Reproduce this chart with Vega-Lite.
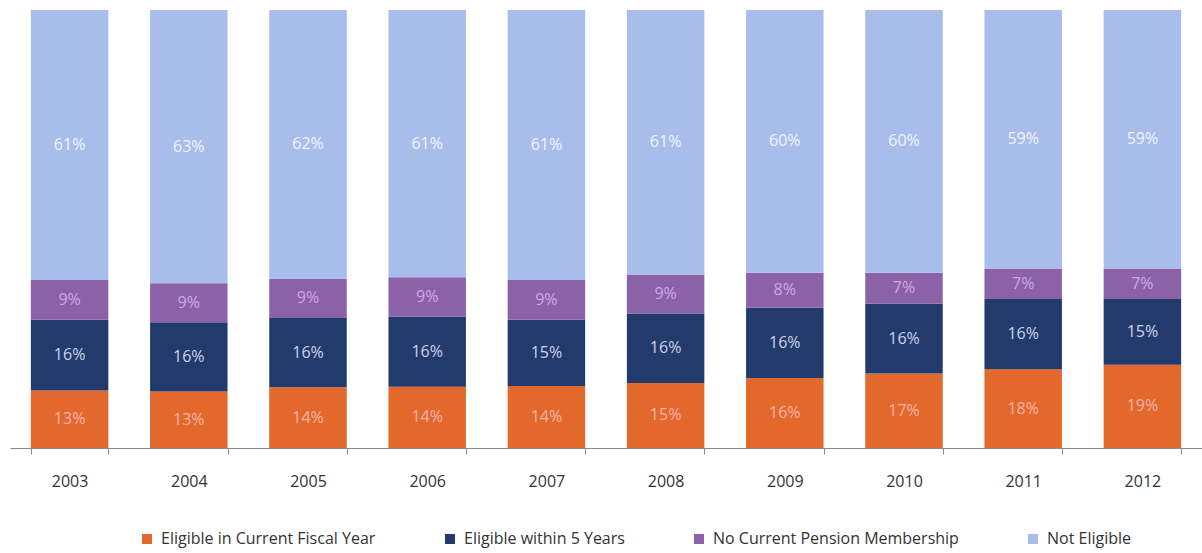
{
  "$schema": "https://vega.github.io/schema/vega-lite/v6.json",
  "width": 1192,
  "height": 438,
  "autosize": {"type": "none"},
  "padding": {"left": 10, "top": 10, "right": 0, "bottom": 105},
  "background": "white",
  "config": {"view": {"stroke": null}, "font": "Open Sans"},
  "data": {
    "values": [
      {"year": "2003", "series": "Eligible in Current Fiscal Year", "value": 0.13},
      {"year": "2003", "series": "Eligible within 5 Years", "value": 0.16},
      {"year": "2003", "series": "No Current Pension Membership", "value": 0.09},
      {"year": "2003", "series": "Not Eligible", "value": 0.61},
      {"year": "2004", "series": "Eligible in Current Fiscal Year", "value": 0.13},
      {"year": "2004", "series": "Eligible within 5 Years", "value": 0.16},
      {"year": "2004", "series": "No Current Pension Membership", "value": 0.09},
      {"year": "2004", "series": "Not Eligible", "value": 0.63},
      {"year": "2005", "series": "Eligible in Current Fiscal Year", "value": 0.14},
      {"year": "2005", "series": "Eligible within 5 Years", "value": 0.16},
      {"year": "2005", "series": "No Current Pension Membership", "value": 0.09},
      {"year": "2005", "series": "Not Eligible", "value": 0.62},
      {"year": "2006", "series": "Eligible in Current Fiscal Year", "value": 0.14},
      {"year": "2006", "series": "Eligible within 5 Years", "value": 0.16},
      {"year": "2006", "series": "No Current Pension Membership", "value": 0.09},
      {"year": "2006", "series": "Not Eligible", "value": 0.61},
      {"year": "2007", "series": "Eligible in Current Fiscal Year", "value": 0.14},
      {"year": "2007", "series": "Eligible within 5 Years", "value": 0.15},
      {"year": "2007", "series": "No Current Pension Membership", "value": 0.09},
      {"year": "2007", "series": "Not Eligible", "value": 0.61},
      {"year": "2008", "series": "Eligible in Current Fiscal Year", "value": 0.15},
      {"year": "2008", "series": "Eligible within 5 Years", "value": 0.16},
      {"year": "2008", "series": "No Current Pension Membership", "value": 0.09},
      {"year": "2008", "series": "Not Eligible", "value": 0.61},
      {"year": "2009", "series": "Eligible in Current Fiscal Year", "value": 0.16},
      {"year": "2009", "series": "Eligible within 5 Years", "value": 0.16},
      {"year": "2009", "series": "No Current Pension Membership", "value": 0.08},
      {"year": "2009", "series": "Not Eligible", "value": 0.60},
      {"year": "2010", "series": "Eligible in Current Fiscal Year", "value": 0.17},
      {"year": "2010", "series": "Eligible within 5 Years", "value": 0.16},
      {"year": "2010", "series": "No Current Pension Membership", "value": 0.07},
      {"year": "2010", "series": "Not Eligible", "value": 0.60},
      {"year": "2011", "series": "Eligible in Current Fiscal Year", "value": 0.18},
      {"year": "2011", "series": "Eligible within 5 Years", "value": 0.16},
      {"year": "2011", "series": "No Current Pension Membership", "value": 0.07},
      {"year": "2011", "series": "Not Eligible", "value": 0.59},
      {"year": "2012", "series": "Eligible in Current Fiscal Year", "value": 0.19},
      {"year": "2012", "series": "Eligible within 5 Years", "value": 0.15},
      {"year": "2012", "series": "No Current Pension Membership", "value": 0.07},
      {"year": "2012", "series": "Not Eligible", "value": 0.59}
    ]
  },
  "transform": [
    {"stack": "value", "groupby": ["year"], "sort": [{"field": "series", "order": "ascending"}], "offset": "normalize", "as": ["y0", "y1"]}
  ],
  "encoding": {
    "x": {
      "field": "year",
      "type": "ordinal",
      "scale": {"paddingInner": 0.35, "paddingOuter": 0.175},
      "axis": {
        "title": null,
        "labelAngle": 0,
        "labelFontSize": 16,
        "labelFontWeight": "normal",
        "labelColor": "#333333",
        "labelPadding": 19,
        "tickBand": "extent",
        "tickSize": 6,
        "tickColor": "#8a8a8a",
        "domainColor": "#8a8a8a",
        "labelFont": "Open Sans"
      }
    }
  },
  "layer": [
    {
      "mark": {"type": "bar"},
      "encoding": {
        "y": {"field": "y1", "type": "quantitative", "scale": {"domain": [0, 1]}, "axis": null},
        "y2": {"field": "y0"},
        "color": {
          "field": "series",
          "type": "nominal",
          "scale": {
            "domain": ["Eligible in Current Fiscal Year", "Eligible within 5 Years", "No Current Pension Membership", "Not Eligible"],
            "range": ["#E2692B", "#233A6D", "#8B62A8", "#A9BDEB"]
          },
          "legend": {
            "title": null,
            "orient": "none",
            "legendX": 129,
            "legendY": 521,
            "direction": "horizontal",
            "columns": 4,
            "symbolType": "square",
            "symbolSize": 100,
            "symbolStrokeWidth": 0,
            "labelFontSize": 16,
            "labelColor": "#333333",
            "labelFont": "Open Sans",
            "columnPadding": 66,
            "labelOffset": 6,
            "labelLimit": 400
          }
        }
      }
    },
    {
      "transform": [
        {"fold": ["y0", "y1"], "as": ["k", "v"]},
        {"aggregate": [{"op": "mean", "field": "v", "as": "mid"}], "groupby": ["year", "series", "value"]}
      ],
      "mark": {"type": "text", "fontSize": 16, "font": "Open Sans", "baseline": "middle"},
      "encoding": {
        "y": {"field": "mid", "type": "quantitative"},
        "text": {"field": "value", "type": "quantitative", "format": ".0%"},
        "color": {
          "field": "series",
          "type": "nominal",
          "scale": {
            "domain": ["Eligible in Current Fiscal Year", "Eligible within 5 Years", "No Current Pension Membership", "Not Eligible"],
            "range": ["#F7B3AE", "#CDD3EA", "#CBAAE2", "#F1F4FD"]
          },
          "legend": null
        }
      }
    }
  ],
  "resolve": {"scale": {"color": "independent"}}
}
